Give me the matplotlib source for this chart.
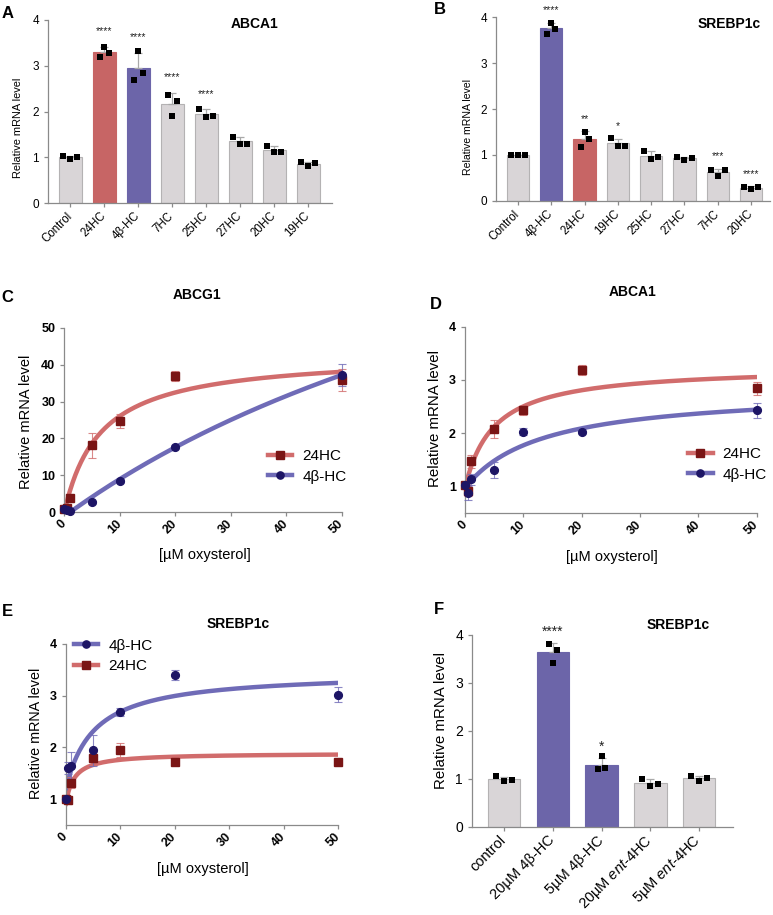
import numpy as np
import matplotlib
matplotlib.use("Agg")
import matplotlib.pyplot as plt

plt.rcParams['font.family'] = ['Liberation Sans', 'DejaVu Sans']
plt.rcParams['mathtext.fontset'] = 'custom'
plt.rcParams['mathtext.rm'] = 'Liberation Sans'
plt.rcParams['mathtext.it'] = 'Liberation Sans:italic'

# ---- data ----
# A: ABCA1 screen (3 replicates each, left/centre/right)
a_labels = ["Control", "24HC", "4β-HC", "7HC", "25HC", "27HC", "20HC", "19HC"]
a_reps = [[1.02, 0.97, 1.01], [3.19, 3.42, 3.27], [2.68, 3.32, 2.84], [2.36, 1.90, 2.24],
          [2.06, 1.88, 1.90], [1.45, 1.30, 1.30], [1.25, 1.11, 1.11], [0.89, 0.80, 0.87]]
a_stars = ["", "****", "****", "****", "****", "", "", ""]

# B: SREBP1c screen
b_labels = ["Control", "4β-HC", "24HC", "19HC", "25HC", "27HC", "7HC", "20HC"]
b_reps = [[1.01, 0.99, 1.00], [3.64, 3.88, 3.75], [1.17, 1.51, 1.35], [1.37, 1.20, 1.20],
          [1.09, 0.91, 0.96], [0.95, 0.90, 0.94], [0.67, 0.54, 0.67], [0.31, 0.25, 0.30]]
b_stars = ["", "****", "**", "*", "", "", "***", "****"]

# F: SREBP1c, 4β-HC vs ent-4HC
f_labels = ["control", "20µM 4β-HC", "5µM 4β-HC", "20µM $\\it{ent}$-4HC", "5µM $\\it{ent}$-4HC"]
f_reps = [[1.06, 0.96, 0.97], [3.81, 3.42, 3.68], [1.20, 1.47, 1.22],
          [1.01, 0.86, 0.90], [1.06, 0.96, 1.02]]
f_stars = ["", "****", "*", "", ""]

# C-E: dose response, mean +/- error, and fitted curve (baseline, span, half-max dose)
doses = [0, 0.5, 1, 5, 10, 20, 50]

c_24hc = [1.0, 1.2, 3.8, 18.1, 24.7, 36.9, 35.8]
c_24hc_err = [0.3, 0.5, 1.0, 3.3, 1.9, 1.4, 3.0]
c_4bhc = [1.0, 0.5, 0.4, 2.7, 8.4, 17.6, 37.2]
c_4bhc_err = [0.2, 0.3, 0.3, 0.4, 0.5, 0.5, 3.1]
c_24hc_fit = (0.0, 43.0, 6.5)
c_4bhc_fit = (-1.085, 127.3, 116.3)

d_24hc = [1.03, 0.92, 1.47, 2.08, 2.43, 3.19, 2.84]
d_24hc_err = [0.05, 0.10, 0.12, 0.17, 0.08, 0.09, 0.13]
d_4bhc = [1.03, 0.87, 1.13, 1.31, 2.03, 2.03, 2.43]
d_4bhc_err = [0.05, 0.13, 0.10, 0.15, 0.07, 0.04, 0.14]
d_24hc_fit = (0.97, 2.29, 4.94)
d_4bhc_fit = (0.97, 1.86, 13.2)

e_4bhc = [1.0, 1.60, 1.64, 1.95, 2.69, 3.40, 3.02]
e_4bhc_err = [0.05, 0.12, 0.27, 0.30, 0.08, 0.10, 0.15]
e_24hc = [1.0, 0.98, 1.32, 1.79, 1.95, 1.71, 1.71]
e_24hc_err = [0.05, 0.08, 0.10, 0.13, 0.14, 0.04, 0.04]
e_4bhc_fit = (1.19, 2.27, 5.15)
e_24hc_fit = (0.89, 1.00, 1.48)

# ---- styling ----
W, H = 773, 915
RED_BAR = '#c76565'
BLUE_BAR = '#6c65a9'
GREY_BAR = '#d9d5d7'
GREY_EDGE = '#b4b2b3'
ERR_GREY = '#a9a9a9'
AXIS = '#8a8a8a'
RED_LINE = '#d16c6c'
BLUE_LINE = '#6f6bb7'
RED_MK = '#7a1515'
BLUE_MK = '#1d1565'

fig = plt.figure(figsize=(W / 100, H / 100), dpi=100)


def px_axes(left, right, top, bottom):
    return fig.add_axes([left / W, 1 - bottom / H, (right - left) / W, (bottom - top) / H])


def style_axes(ax):
    for s in ['top', 'right']:
        ax.spines[s].set_visible(False)
    for s in ['left', 'bottom']:
        ax.spines[s].set_color(AXIS)
        ax.spines[s].set_linewidth(0.9)
    ax.tick_params(colors=AXIS, length=3, width=0.9, labelcolor='black')


def bar_color(lab):
    if lab == "24HC":
        return RED_BAR
    if "4β-HC" in lab:
        return BLUE_BAR
    return GREY_BAR


def bar_panel(ax, labels, reps, stars, wide, narrow, star_off, star_size, ms):
    for i, (lab, r) in enumerate(zip(labels, reps)):
        m = np.mean(r)
        sd = np.std(r, ddof=1)
        col = bar_color(lab)
        ax.bar(i, m, width=0.67, color=col,
               edgecolor=GREY_EDGE if col == GREY_BAR else col, linewidth=0.8, zorder=1)
        ax.errorbar(i, m, yerr=[[0], [sd]], color=ERR_GREY, capsize=3, elinewidth=0.9,
                    capthick=0.9, zorder=2)
        spread = narrow if np.ptp(r) > 0.2 else wide
        ax.scatter(i + np.array([-spread, 0, spread]), r, marker='s', s=ms, color='black',
                   linewidths=0, zorder=3, clip_on=False)
        if stars[i]:
            ax.annotate(stars[i], (i, m + sd), xytext=(0, star_off), textcoords='offset points',
                        ha='center', va='baseline', fontsize=star_size, color='#222222',
                        annotation_clip=False)
    ax.set_xticks(range(len(labels)))
    style_axes(ax)


def hyper(x, fit):
    y0, span, k = fit
    return y0 + span * x / (k + x)


def dose_panel(ax, series):
    xs = np.linspace(0, 50, 300)
    for vals, err, fit, lc, mc, mk in series:
        ax.plot(xs, hyper(xs, fit), color=lc, lw=3.2, solid_capstyle='round', zorder=2)
    for vals, err, fit, lc, mc, mk in series:
        ax.errorbar(doses, vals, yerr=err, fmt='none', ecolor=lc, elinewidth=0.8, capsize=3,
                    capthick=0.8, alpha=0.8, zorder=3, clip_on=False)
        ax.plot(doses, vals, ls='none', marker=mk, ms=5.2 if mk == 's' else 5.6, color=mc,
                zorder=4, clip_on=False)
    ax.set_xlim(0, 50)
    ax.set_xticks([0, 10, 20, 30, 40, 50])
    style_axes(ax)
    for t in ax.get_xticklabels():
        t.set_rotation(45)
        t.set_ha('right')
        t.set_va('center')
        t.set_rotation_mode('anchor')
        t.set_fontweight('bold')
        t.set_fontsize(9)
    for t in ax.get_yticklabels():
        t.set_fontweight('bold')
        t.set_fontsize(9)
    ax.tick_params(axis='x', pad=4)
    ax.set_xlabel("[µM oxysterol]", fontsize=10.5)


def legend_handles(entries):
    hs = []
    for lc, mc, mk in entries:
        h, = plt.plot([], [], color=lc, lw=3.2, marker=mk, ms=5.2, mfc=mc, mec=mc)
        hs.append(h)
    return hs


# ---- A ----
axA = px_axes(48, 332, 20, 203)
bar_panel(axA, a_labels, a_reps, a_stars, 0.21, 0.13, 9, 7.5, 20)
axA.set_xlim(-0.65, 7.7)
axA.set_ylim(0, 4)
axA.set_yticks([0, 1, 2, 3, 4])
axA.set_xticklabels(a_labels, rotation=45, ha='right', va='center', rotation_mode='anchor',
                    fontsize=8.3)
axA.tick_params(axis='y', labelsize=8.5)
axA.tick_params(axis='x', pad=5)
axA.set_ylabel("Relative mRNA level", fontsize=7.9)
axA.yaxis.set_label_coords((23 - 48) / 284, 0.41)

# ---- B ----
axB = px_axes(496, 770, 17, 201)
bar_panel(axB, b_labels, b_reps, b_stars, 0.215, 0.12, 7, 7.5, 20)
axB.set_xlim(-0.66, 7.57)
axB.set_ylim(0, 4)
axB.set_yticks([0, 1, 2, 3, 4])
axB.set_xticklabels(b_labels, rotation=45, ha='right', va='center', rotation_mode='anchor',
                    fontsize=8.3)
axB.tick_params(axis='y', labelsize=8.5)
axB.tick_params(axis='x', pad=5)
axB.set_ylabel("Relative mRNA level", fontsize=7.6)
axB.yaxis.set_label_coords((473 - 496) / 274, 0.40)

# ---- C ----
axC = px_axes(64.3, 341.7, 327.7, 512.3)
dose_panel(axC, [(c_24hc, c_24hc_err, c_24hc_fit, RED_LINE, RED_MK, 's'),
                 (c_4bhc, c_4bhc_err, c_4bhc_fit, BLUE_LINE, BLUE_MK, 'o')])
axC.set_ylim(0, 50)
axC.set_yticks([0, 10, 20, 30, 40, 50])
axC.set_ylabel("Relative mRNA level", fontsize=10.5)
axC.yaxis.set_label_coords((33.3 - 64.3) / 277.4, 0.49)
axC.xaxis.set_label_coords(0.505, -0.195)
axC.legend(legend_handles([(RED_LINE, RED_MK, 's'), (BLUE_LINE, BLUE_MK, 'o')]),
           ["24HC", "4β-HC"], loc='upper left', bbox_to_anchor=(0.734, 0.343), frameon=False,
           fontsize=11, handlelength=1.6, handletextpad=0.65, labelspacing=0.44, borderpad=0,
           borderaxespad=0, numpoints=1)

# ---- D ----
axD = px_axes(465, 756.7, 326.7, 513)
dose_panel(axD, [(d_24hc, d_24hc_err, d_24hc_fit, RED_LINE, RED_MK, 's'),
                 (d_4bhc, d_4bhc_err, d_4bhc_fit, BLUE_LINE, BLUE_MK, 'o')])
axD.set_ylim(0.5, 4)
axD.set_yticks([1, 2, 3, 4])
axD.set_ylabel("Relative mRNA level", fontsize=10.8)
axD.yaxis.set_label_coords((441.7 - 465) / 291.7, 0.505)
axD.xaxis.set_label_coords(0.504, -0.199)
axD.legend(legend_handles([(RED_LINE, RED_MK, 's'), (BLUE_LINE, BLUE_MK, 'o')]),
           ["24HC", "4β-HC"], loc='upper left', bbox_to_anchor=(0.765, 0.355), frameon=False,
           fontsize=11, handlelength=1.6, handletextpad=0.65, labelspacing=0.44, borderpad=0,
           borderaxespad=0, numpoints=1)

# ---- E ----
axE = px_axes(65.7, 338.3, 644, 825)
dose_panel(axE, [(e_24hc, e_24hc_err, e_24hc_fit, RED_LINE, RED_MK, 's'),
                 (e_4bhc, e_4bhc_err, e_4bhc_fit, BLUE_LINE, BLUE_MK, 'o')])
axE.set_ylim(0.5, 4)
axE.set_yticks([1, 2, 3, 4])
axE.set_ylabel("Relative mRNA level", fontsize=10.4)
axE.yaxis.set_label_coords((43.3 - 65.7) / 272.6, 0.505)
axE.xaxis.set_label_coords(0.505, -0.204)
axE.legend(legend_handles([(BLUE_LINE, BLUE_MK, 'o'), (RED_LINE, RED_MK, 's')]),
           ["4β-HC", "24HC"], loc='upper left', bbox_to_anchor=(0.03, 1.03), frameon=False,
           fontsize=11, handlelength=1.6, handletextpad=0.65, labelspacing=0.44, borderpad=0,
           borderaxespad=0, numpoints=1)

# ---- F ----
axF = px_axes(472, 733, 635, 827)
bar_panel(axF, f_labels, f_reps, f_stars, 0.16, 0.08, 5, 10, 18)
axF.set_xlim(-0.66, 4.7)
axF.set_ylim(0, 4)
axF.set_yticks([0, 1, 2, 3, 4])
axF.set_xticklabels(f_labels, rotation=45, ha='right', va='center', rotation_mode='anchor',
                    fontsize=10.5)
axF.tick_params(axis='y', labelsize=10)
axF.tick_params(axis='x', pad=5)
axF.set_ylabel("Relative mRNA level", fontsize=10.8)
axF.yaxis.set_label_coords((448.3 - 472) / 261, 0.555)

# ---- titles and panel letters ----
titles = [("ABCA1", 255, 24), ("SREBP1c", 729, 24), ("ABCG1", 197, 295),
          ("ABCA1", 633, 292), ("SREBP1c", 238, 624), ("SREBP1c", 678, 625)]
for txt, x, y in titles:
    fig.text(x / W, 1 - y / H, txt, ha='center', va='center', fontsize=10, fontweight='bold')

letters = [("A", 7.5, 13), ("B", 440, 10), ("C", 7.5, 297), ("D", 436, 305),
           ("E", 7.5, 611), ("F", 439, 610)]
for txt, x, y in letters:
    fig.text(x / W, 1 - y / H, txt, ha='center', va='center', fontsize=12, fontweight='bold')

fig.savefig("out.png", dpi=100)
